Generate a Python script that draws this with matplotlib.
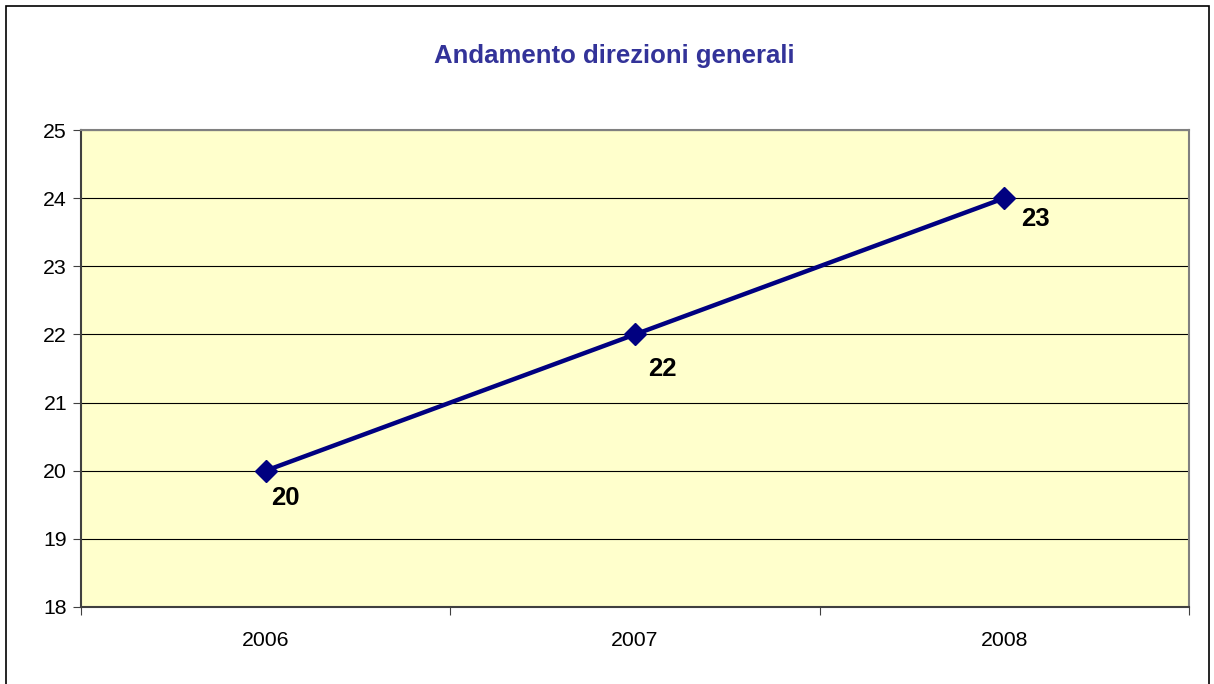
import matplotlib.pyplot as plt
from matplotlib.patches import Rectangle

plt.rcParams['font.family'] = ['Liberation Sans', 'DejaVu Sans']

# data
anni = ['2006', '2007', '2008']
valori = [20, 22, 24]
etichette = ['20', '22', '23']
titolo = 'Andamento direzioni generali'

fig = plt.figure(figsize=(12.14, 6.84), dpi=100)
# outer chart border
fig.patches.append(Rectangle((6 / 1214, -0.01), 1203 / 1214, 1 - 6 / 684 + 0.01,
                             transform=fig.transFigure, fill=False,
                             edgecolor='black', linewidth=1.2))

ax = fig.add_axes([81 / 1214, 1 - 607 / 684, 1108 / 1214, 477 / 684])
ax.set_facecolor('#FFFFCC')

xs = [i + 0.5 for i in range(len(anni))]
ax.plot(xs, valori, color='#000080', linewidth=3.2, marker='D',
        markersize=11, zorder=3)
# label placement offsets (pixels), as in the original
spost = [(20, -27), (27, -35), (31, -21)]
for x, v, lab, (dx, dy) in zip(xs, valori, etichette, spost):
    ax.annotate(lab, (x, v), xytext=(dx, dy), textcoords='offset pixels',
                ha='center', va='center', fontsize=18.5, fontweight='bold')

ax.set_xlim(0, len(anni))
ax.set_ylim(18, 25)
ax.set_yticks(range(18, 26))
ax.set_xticks(range(len(anni) + 1))
ax.set_xticklabels([])
ax.set_xticks(xs, minor=True)
ax.set_xticklabels(anni, minor=True)
ax.tick_params(axis='x', which='minor', length=0, pad=17, labelsize=15.3)
ax.tick_params(axis='x', which='major', length=6, color='#404040')
ax.tick_params(axis='y', length=6, pad=4, labelsize=15.3, color='#404040')

ax.grid(axis='y', color='black', linewidth=0.8)
ax.set_axisbelow(True)
for s in ['left', 'bottom']:
    ax.spines[s].set_color('#404040')
    ax.spines[s].set_linewidth(1.5)
for s in ['top', 'right']:
    ax.spines[s].set_color('#808080')
    ax.spines[s].set_linewidth(1.5)

fig.text(614 / 1214, 1 - 56 / 684, titolo, ha='center', va='center',
         fontsize=18.5, fontweight='bold', color='#333399')

fig.savefig('out.png', dpi=100)
